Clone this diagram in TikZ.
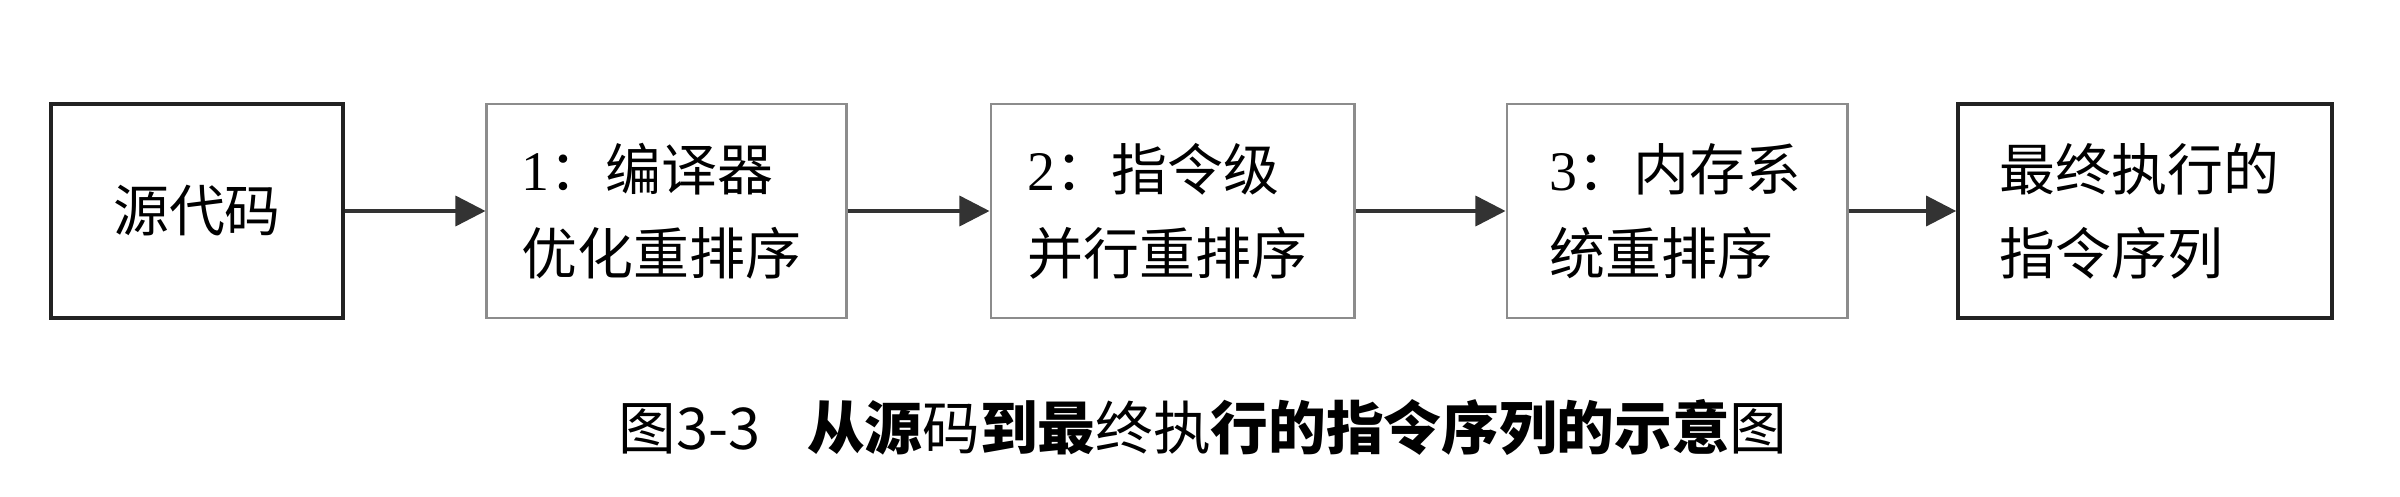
\documentclass[tikz,border=0pt]{standalone}
\usepackage{fontspec}
\usetikzlibrary{arrows.meta}
\newfontfamily\cjk{Noto Sans CJK SC}
\newfontfamily\numfont{Liberation Serif}
\definecolor{darkline}{HTML}{222222}
\definecolor{grayline}{HTML}{8C8C8C}
\definecolor{arrowline}{HTML}{333333}
\newcommand{\boxfont}{\cjk\fontsize{15.9pt}{23.9pt}\selectfont}
\newcommand{\capfont}{\cjk\fontsize{16.4pt}{20pt}\selectfont}
\begin{document}
\begin{tikzpicture}[x=0.01cm,y=0.01cm,
  stagebox/.style={draw=grayline, line width=0.8pt, minimum height=2.14cm,
    align=left, font=\boxfont, text=black, inner ysep=0pt},
  endbox/.style={draw=darkline, line width=1pt, minimum height=2.14cm,
    align=left, font=\boxfont, text=black, inner ysep=0pt},
  flow/.style={draw=arrowline, line width=1pt,
    -{Triangle[length=0.30cm, width=0.30cm]}}]
\useasboundingbox (0,0) rectangle (2400,496);
\node[endbox, minimum width=2.92cm, align=center] (src) at (197,285) {源代码};
\node[stagebox, inner xsep=0.35cm, text width=2.89cm] (s1) at (666.5,285)
  {{\numfont 1}：编译器\\优化重排序};
\node[stagebox, inner xsep=0.37cm, text width=2.89cm] (s2) at (1172.5,285)
  {{\numfont 2}：指令级\\并行重排序};
\node[stagebox, inner xsep=0.43cm, text width=2.54cm] (s3) at (1677,285)
  {{\numfont 3}：内存系\\统重排序};
\node[endbox, inner xsep=0.42cm, text width=2.90cm] (fin) at (2145,285)
  {最终执行的\\指令序列};
\draw[flow] (src) -- (s1);
\draw[flow] (s1) -- (s2);
\draw[flow] (s2) -- (s3);
\draw[flow] (s3) -- (fin);
\node[font=\capfont, inner sep=0pt] (cap) at (1203,69)
  {图3-3\hspace{0.47cm}{\bfseries 从源}码{\bfseries 到最}终执{\bfseries 行的指令序列的示意}图};
\end{tikzpicture}
\end{document}
